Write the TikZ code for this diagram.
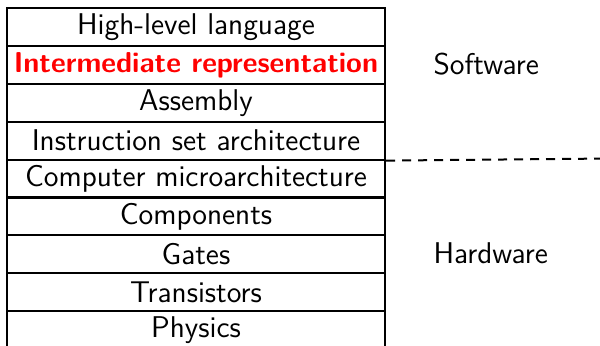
\documentclass[tikz,border=0pt]{standalone}
\renewcommand{\familydefault}{\sfdefault}
\begin{document}
\begin{tikzpicture}[x=0.4pt,y=-0.4pt,
  layer/.style={draw,line width=0.8pt,anchor=north west,minimum width=151.2pt,minimum height=15.16pt,inner sep=0pt,font=\fontsize{12}{14}\selectfont},
  side/.style={anchor=west,font=\large,inner sep=0pt}]
\useasboundingbox (0,0) rectangle (600,346);
\node[layer] (r1) at (6,7) {High-level language};
\node[layer] (r2) at (6,44.9) {\fontsize{11.5}{14}\selectfont\textcolor{red}{\bfseries Intermediate representation}};
\node[layer] (r3) at (6,82.8) {Assembly};
\node[layer] (r4) at (6,120.7) {Instruction set architecture};
\node[layer] (r5) at (6,158.6) {Computer microarchitecture};
\node[layer] (r6) at (6,196.5) {Components};
\node[layer] (r7) at (6,234.4) {Gates};
\node[layer] (r8) at (6,272.3) {Transistors};
\node[layer] (r9) at (6,310.2) {Physics};
\node[side] (sw) at (433,64) {Software};
\node[side] (hw) at (433,253.4) {Hardware};
\coordinate (dend) at (600,158.6);
\draw[dash pattern=on 3.6pt off 2.8pt,line width=0.8pt] (r4.south east) -- (dend);
\end{tikzpicture}
\end{document}
